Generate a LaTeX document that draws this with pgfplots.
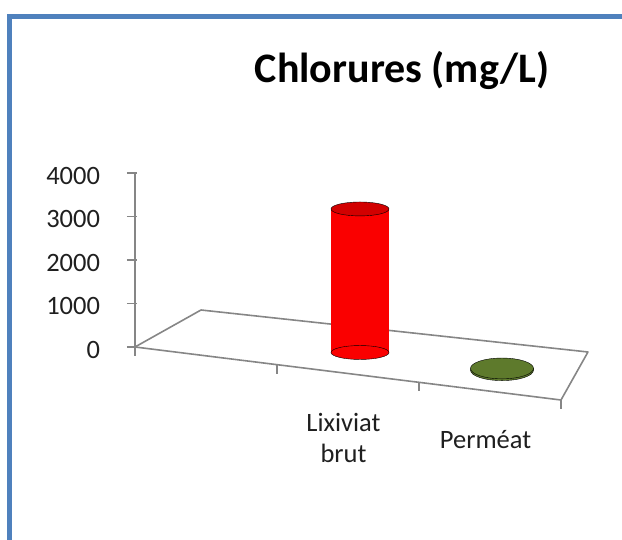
\documentclass[border=0pt]{standalone}
\usepackage{fontspec}
\setmainfont{Carlito}
\usepackage{pgfplots}
\pgfplotsset{compat=1.18}
\definecolor{frameblue}{HTML}{4F81BD}
\definecolor{axgray}{HTML}{868686}
\definecolor{cylred}{HTML}{FA0000}
\definecolor{cyltop}{HTML}{D20000}
\definecolor{cylgreen}{HTML}{5E7A2C}
\begin{document}
\begin{tikzpicture}
\begin{axis}[
  x={(142pt,-17.67pt)}, y={(24pt,42pt)}, z={(0pt,0.0435pt)},
  xmin=0, xmax=3, ymin=0, ymax=1, zmin=0, zmax=4000,
  clip=false,
  axis lines=left,
  axis line style={-, draw=axgray, line width=1.6pt},
  every outer x axis line/.append style={-},
  every outer y axis line/.append style={-},
  every outer z axis line/.append style={-},
  every inner x axis line/.append style={-},
  every inner y axis line/.append style={-},
  every inner z axis line/.append style={-},
  y axis line style={draw=none},
  ytick=\empty,
  ztick={0,1000,2000,3000,4000},
  xtick={1.5,2.5},
  xticklabels={{Lixiviat\\brut},{Perméat}},
  tick style={draw=none},
  tick align=outside,
  major tick length=9pt,
  ticklabel style={font=\fontsize{26.5}{31}\selectfont, text=black!88},
  xticklabel style={align=center, anchor=north, yshift=-28pt},
  zticklabel style={anchor=east, xshift=-27pt, yshift=5pt},
  /pgf/number format/assume math mode=true,
  /pgf/number format/1000 sep={},
]
\coordinate (O) at (axis cs:0,0,0);
% floor outline (perspective-like)
\draw[axgray, line width=1.6pt, line join=round] (axis cs:0,0,0) -- (axis cs:0.295,1.005,0) -- (axis cs:2.997,1.142,0) -- (axis cs:3,0,0);
% tick marks
\pgfplotsinvokeforeach{0,1000,2000,3000,4000}{\draw[axgray, line width=1.6pt] ([xshift=-8pt]axis cs:0,0,#1) -- ([xshift=2pt]axis cs:0,0,#1);}
\pgfplotsinvokeforeach{0,1,2,3}{\draw[axgray, line width=1.6pt] (axis cs:#1,0,0) -- ([yshift=-9pt]axis cs:#1,0,0);}
% Lixiviat brut
\addplot3[draw=cylred, line width=58pt, line cap=butt, mark=none] coordinates {(1.5,0.5,0) (1.5,0.5,3300)};
\addplot3[only marks, mark=*, mark size=29pt, mark options={draw=none, fill=cylred, yscale=0.24}] coordinates {(1.5,0.5,0)};
\addplot3[only marks, mark=*, mark size=29pt, mark options={draw=none, fill=cyltop, yscale=0.24}] coordinates {(1.5,0.5,3300)};
% Permeat
\addplot3[draw=cylgreen, line width=63pt, line cap=butt, mark=none] coordinates {(2.5,0.5,0) (2.5,0.5,40)};
\addplot3[only marks, mark=*, mark size=31.5pt, mark options={draw=none, fill=cylgreen, yscale=0.33}] coordinates {(2.5,0.5,0) (2.5,0.5,40)};
\end{axis}
\draw[frameblue, line width=5pt, line join=miter] ([shift={(-125pt,-400pt)}]O) -- ([shift={(-125pt,330.5pt)}]O) -- ([shift={(600pt,330.5pt)}]O);
\node[anchor=base, font=\fontsize{42}{50}\bfseries, text=black] at ([shift={(267pt,264pt)}]O) {Chlorures (mg/L)};
\pgfresetboundingbox
\path[use as bounding box] ([shift={(-135pt,347pt)}]O) rectangle ([shift={(487pt,-193pt)}]O);
\end{tikzpicture}
\end{document}
